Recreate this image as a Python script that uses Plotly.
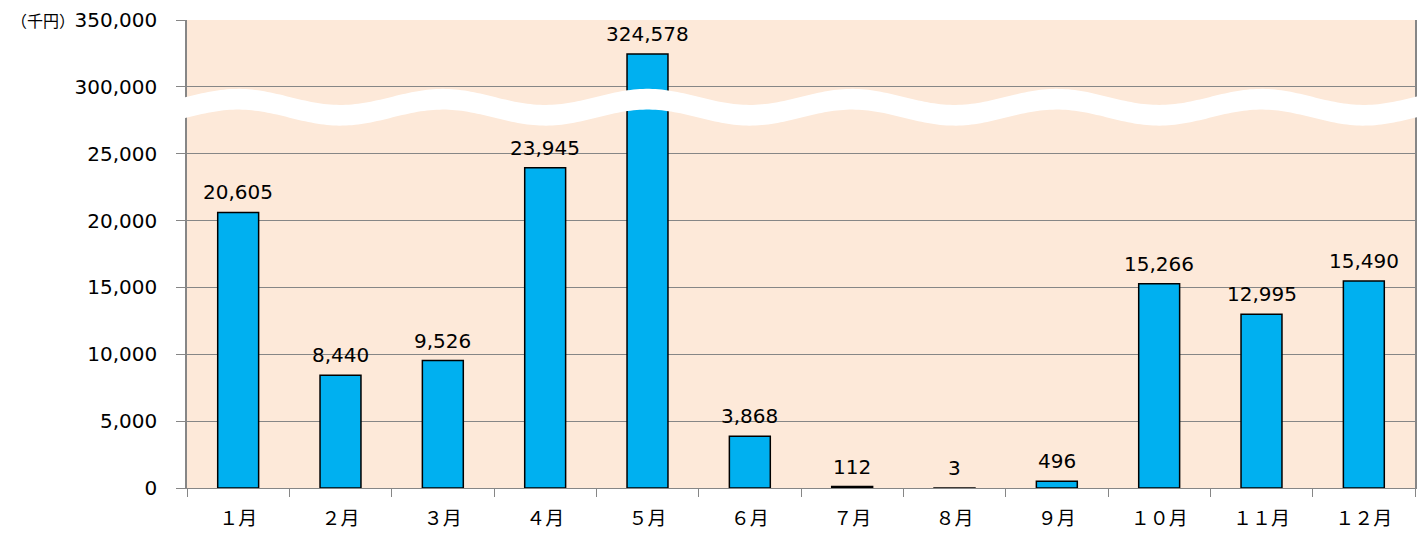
import numpy as np
import plotly.graph_objects as go

months = ["１月", "２月", "３月", "４月", "５月", "６月", "７月", "８月", "９月", "１０月", "１１月", "１２月"]
values = [20605, 8440, 9526, 23945, 324578, 3868, 112, 3, 496, 15266, 12995, 15490]
tick_values = [0, 5000, 10000, 15000, 20000, 25000, 300000, 350000]
tick_labels = ["0", "5,000", "10,000", "15,000", "20,000", "25,000", "300,000", "350,000"]

LOW_STEP = 5000
LOW_MAX = 25000
HIGH_BASE = 300000
HIGH_STEP = 50000


def to_axis(v):
    """Broken-axis transform: 0..25,000 linear, then 300,000..350,000."""
    if v <= LOW_MAX:
        return v / LOW_STEP
    return LOW_MAX / LOW_STEP + 1 + (v - HIGH_BASE) / HIGH_STEP


y_axis_vals = [to_axis(v) for v in values]
tick_pos = [to_axis(v) for v in tick_values]
labels = [f"{v:,}" for v in values]

num_font = "DejaVu Sans, Noto Sans, sans-serif"
cjk_font = "Noto Sans CJK JP, Noto Sans, sans-serif"
grid_color = "#868686"

fig = go.Figure()
fig.add_trace(go.Bar(
    x=months,
    y=y_axis_vals,
    marker=dict(color="#00B0F0", line=dict(color="#000000", width=1.5)),
    cliponaxis=False,
    hoverinfo="skip",
))

for m, yv, lab in zip(months, y_axis_vals, labels):
    fig.add_annotation(x=m, y=yv, text=lab, showarrow=False,
                       xanchor="center", yanchor="middle", yshift=20,
                       font=dict(size=20, color="#000000", family=num_font))

# wave-shaped break band between 25,000 and 300,000
n_cat = len(months)
xs = np.linspace(-0.6, n_cat - 0.4, 400)
center = 5.85
amp = 0.12
thick = 0.31
top = center + amp * np.cos(np.pi * xs)
bot = top - thick
px = (xs + 0.5) / n_cat
pts_top = [f"{x:.5f},{y:.5f}" for x, y in zip(px, top)]
pts_bot = [f"{x:.5f},{y:.5f}" for x, y in zip(px[::-1], bot[::-1])]
path = "M " + " L ".join(pts_top + pts_bot) + " Z"
fig.add_shape(type="path", path=path, xref="paper", yref="y",
              fillcolor="#FFFFFF", line=dict(width=0), layer="above")

fig.add_annotation(text="（千円）", xref="paper", yref="y", x=-0.1446, y=7,
                   xanchor="left", yanchor="middle", showarrow=False,
                   font=dict(size=16, color="#000000", family=cjk_font))

fig.update_layout(
    width=1411, height=522,
    margin=dict(l=179, r=4, t=12, b=42),
    paper_bgcolor="#FFFFFF",
    plot_bgcolor="#FDE9D9",
    showlegend=False,
    bargap=0.6,
    font=dict(family=num_font, color="#000000"),
)
fig.update_xaxes(
    automargin=False,
    showline=True, linecolor=grid_color, linewidth=1,
    ticks="outside", tickson="boundaries", ticklen=8, tickcolor=grid_color,
    tickfont=dict(size=19, family=cjk_font), ticklabelstandoff=13,
    showgrid=False,
)
fig.update_yaxes(
    automargin=False,
    range=[0, 7], tickvals=tick_pos, ticktext=tick_labels,
    showline=True, mirror=True, linecolor=grid_color, linewidth=1.5,
    ticks="outside", ticklen=9, tickcolor=grid_color,
    showgrid=True, gridcolor=grid_color, gridwidth=1,
    tickfont=dict(size=20, family=num_font), ticklabelstandoff=15,
    zeroline=False,
)

fig.write_html("out.html")
